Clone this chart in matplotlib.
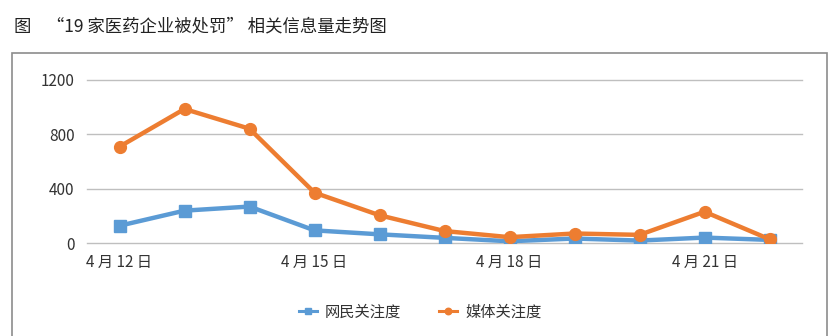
import matplotlib
matplotlib.use("Agg")
import matplotlib.pyplot as plt
from matplotlib.patches import Rectangle

plt.rcParams['font.family'] = ['Noto Sans CJK SC', 'DejaVu Sans']

dates = ["4 月 12 日", "4 月 13 日", "4 月 14 日", "4 月 15 日", "4 月 16 日", "4 月 17 日",
         "4 月 18 日", "4 月 19 日", "4 月 20 日", "4 月 21 日", "4 月 22 日"]
netizen = [129, 240, 270, 95, 66, 40, 15, 35, 20, 42, 25]
media = [710, 987, 842, 372, 206, 90, 45, 72, 62, 232, 30]
yticks = [0, 400, 800, 1200]
title = "图    “19 家医药企业被处罚” 相关信息量走势图"

fig = plt.figure(figsize=(8.39, 3.36), dpi=100)
fig.text(14/839, 1 - 26/336, title, fontsize=12.5, va='center', ha='left', color='#222222')
fig.patches.append(Rectangle((12/839, -0.1), (827-12)/839, 1.1 - 53/336,
                             transform=fig.transFigure, fill=False, edgecolor='#8c8c8c', lw=1.2))

ax = fig.add_axes([87/839, 1 - 243.3/336, (802-87)/839, (243.3-80)/336])
x = list(range(len(dates)))
ax.plot(x, netizen, color='#5B9BD5', lw=3.2, marker='s', markersize=9, label='网民关注度', zorder=3)
ax.plot(x, media, color='#ED7D31', lw=3.2, marker='o', markersize=8.5, label='媒体关注度', zorder=4)
ax.set_xlim(-0.5, len(dates) - 0.5)
ax.set_ylim(0, 1200)
ax.set_yticks(yticks)
ax.set_yticklabels([str(v) for v in yticks])
ax.set_xticks(x[::3])
ax.set_xticklabels(dates[::3])
ax.grid(axis='y', color='#bfbfbf', lw=1)
for gl in ax.get_ygridlines():
    gl.set_clip_on(False)
ax.set_axisbelow(True)
for s in ax.spines.values():
    s.set_visible(False)
ax.tick_params(axis='both', length=0, labelsize=11, colors='#333333')
ax.tick_params(axis='y', pad=9)
ax.tick_params(axis='x', pad=8)
leg = fig.legend(loc='center', bbox_to_anchor=(420/839, 1 - 312/336), ncol=2, frameon=False,
                 fontsize=11, handlelength=1.2, handletextpad=0.5, columnspacing=2.5, markerscale=0.55)
for h in leg.get_lines():
    h.set_linewidth(2.2)
for t in leg.get_texts():
    t.set_color('#333333')
fig.savefig("out.png", dpi=100)
